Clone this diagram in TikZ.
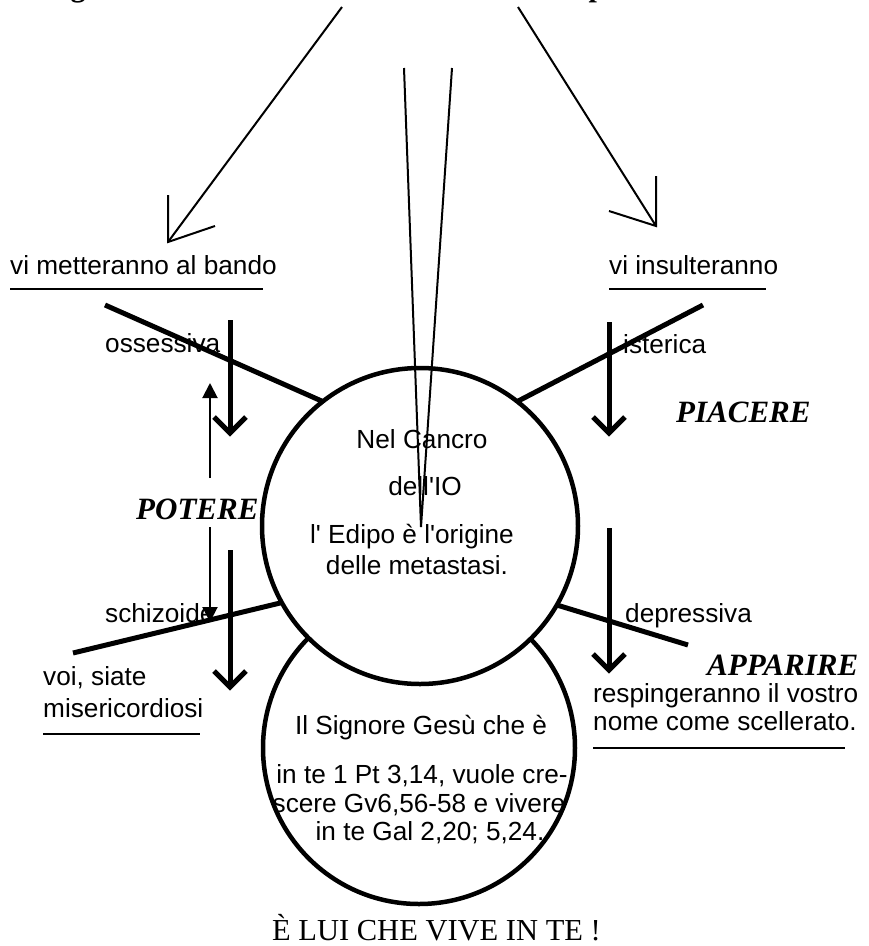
\documentclass[tikz,border=0pt]{standalone}
\usepackage{fontspec}
\setmainfont{Liberation Sans}
\newfontfamily\tnr{Liberation Serif}
\usetikzlibrary{arrows.meta,calc}
\begin{document}
\begin{tikzpicture}[x=1pt,y=-1pt,
  thinline/.style={line width=2pt},
  thickline/.style={line width=5pt},
  lbl/.style={font=\fontsize{26.2}{30}\selectfont, inner sep=0pt},
  big/.style={font=\tnr\bfseries\itshape\fontsize{31}{36}\selectfont, inner sep=0pt},
  ring/.style={draw, circle, line width=4.5pt, inner sep=0pt, outer sep=0pt},
  potarrow/.style={line width=2pt, -{Triangle[width=15pt,length=15pt]}},
  ]
\useasboundingbox (0,0) rectangle (869,946);
\begin{scope}
\clip (0,0) rectangle (869,946);
\node[anchor=base, font=\tnr\bfseries\fontsize{30}{36}\selectfont, inner sep=0pt] (tg) at (78,-4) {g};
\node[anchor=base, font=\tnr\bfseries\fontsize{30}{36}\selectfont, inner sep=0pt] (tp) at (597,-4) {p};
\end{scope}

% circles
\node[ring, minimum size=312pt] (low) at (419,748) {};
\node[ring, minimum size=316pt, fill=white] (up) at (420,526) {};

% long arrows from the top
\coordinate (ls) at (342,7);
\coordinate (lt) at (168,242);
\coordinate (lb1) at (168,195);
\coordinate (lb2) at (215,226);
\draw[thinline] (ls) -- (lt);
\draw[thinline] (lb1) -- (lt) -- (lb2);
\coordinate (rs) at (518,7);
\coordinate (rt) at (656,226);
\coordinate (rb1) at (656,176);
\coordinate (rb2) at (609,211);
\draw[thinline] (rs) -- (rt);
\draw[thinline] (rb1) -- (rt) -- (rb2);

% labels under arrows
\node[lbl, anchor=base west] (bando) at (10,274) {vi metteranno al bando};
\draw[thinline] (10,289) coordinate (ub1) -- (263,289) coordinate (ub2);
\node[lbl, anchor=base west] (insult) at (609,274) {vi insulteranno};
\draw[thinline] (609,289) coordinate (ui1) -- (766,289) coordinate (ui2);

% thick diagonal lines to circle
\coordinate (d1) at (105,305);
\coordinate (d2) at (703,305);
\coordinate (d3) at (73,653);
\coordinate (d4) at (688,645);
\draw[thickline] (d1) -- (up.128);
\draw[thickline] (d2) -- (up.52);
\draw[thickline] (d3) -- (up.209.4);
\draw[thickline] (d4) -- (up.330.8);

% thick vertical arrows
\foreach \n/\x/\ya/\yb in {a/230/320/433, b/230/550/687, c/609/322/433, d/609/528/670}{
  \coordinate (\n s) at (\x,\ya);
  \coordinate (\n t) at (\x,\yb);
  \draw[thickline] (\n s) -- (\n t);
  \draw[thickline] ($(\n t)+(-16,-16)$) -- (\n t) -- ($(\n t)+(16,-16)$);
}

% thin POTERE arrows
\coordinate (pa1) at (210,478);
\coordinate (pa2) at (210,383);
\coordinate (pb1) at (210,527);
\coordinate (pb2) at (210,622);
\draw[potarrow] (pa1) -- (pa2);
\draw[potarrow] (pb1) -- (pb2);

% side labels
\node[lbl, anchor=base west] (oss) at (105,352) {ossessiva};
\node[lbl, anchor=base west] (ist) at (623,353) {isterica};
\node[lbl, anchor=base west] (sch) at (105,622) {schizoide};
\node[lbl, anchor=base west] (dep) at (625,622) {depressiva};

\node[big, anchor=base west] (pot) at (136,519) {POTERE};
\node[big, anchor=base west] (pia) at (676,422) {PIACERE};
\node[big, anchor=base west] (app) at (707,675) {APPARIRE};

% upper circle text
\node[lbl, anchor=base] (c1) at (422,448) {Nel Cancro};
\node[lbl, anchor=base] (c2) at (425,495) {dell\textquotesingle IO};
\node[lbl, anchor=base] (c3) at (412,543) {l\textquotesingle{} Edipo è l\textquotesingle origine};
\node[lbl, anchor=base] (c4) at (417,574) {delle metastasi.};

% thin V into the circle
\coordinate (v1) at (404,68);
\coordinate (v2) at (452,68);
\coordinate (vt) at (421,527);
\draw[thinline] (v1) -- (vt) -- (v2);

% left bottom
\node[lbl, anchor=base west] (voi) at (43,685) {voi, siate};
\node[lbl, anchor=base west] (mis) at (43,717) {misericordiosi};
\draw[thinline] (43,734) coordinate (um1) -- (200,734) coordinate (um2);

% right bottom
\node[lbl, anchor=base west] (resp) at (593,702) {respingeranno il vostro};
\node[lbl, anchor=base west] (nome) at (593,730) {nome come scellerato.};
\draw[thinline] (593,748) coordinate (us1) -- (845,748) coordinate (us2);

% lower circle text
\node[lbl, anchor=base] (g1) at (421,734) {Il Signore Gesù che è};
\node[lbl, anchor=base] (g2) at (422,783) {in te 1 Pt 3,14, vuole cre-};
\node[lbl, anchor=base] (g3) at (419,812) {scere Gv6,56-58 e vivere};
\node[lbl, anchor=base] (g4) at (430,840) {in te Gal 2,20; 5,24.};

\node[anchor=base west, inner sep=0pt, font=\tnr\fontsize{30.5}{36}\selectfont] (lui) at (272,940) {È LUI CHE VIVE IN TE !};
\end{tikzpicture}
\end{document}
